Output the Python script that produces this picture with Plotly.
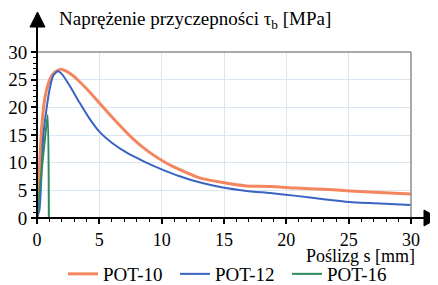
import plotly.graph_objects as go

# ---- data ----
pot10_x = [0, 0.2, 0.38, 0.64, 1.04, 1.4, 1.9, 2.3, 2.9, 3.3, 4.0, 5.0, 6.4, 7.7, 9.0, 10.4, 11.5, 13.1, 14.9, 16.8, 18.7, 20.8, 23.0, 25.1, 27.5, 30.0]
pot10_y = [0, 9.0, 16.5, 21.8, 25.1, 26.3, 26.9, 26.6, 25.7, 24.9, 23.3, 20.8, 17.3, 14.3, 11.9, 9.9, 8.7, 7.2, 6.4, 5.8, 5.7, 5.4, 5.2, 4.9, 4.6, 4.35]

pot12_x = [0, 0.2, 0.5, 0.78, 1.04, 1.3, 1.66, 2.0, 2.6, 3.4, 4.2, 5.0, 6.0, 7.2, 8.6, 10.0, 11.5, 13.1, 14.9, 16.8, 18.7, 20.8, 23.0, 25.1, 27.5, 30.0]
pot12_y = [0, 1.5, 14.7, 20.0, 23.6, 25.7, 26.5, 26.0, 24.0, 20.9, 18.0, 15.6, 13.6, 11.8, 10.2, 8.8, 7.5, 6.4, 5.5, 4.9, 4.5, 4.0, 3.4, 2.9, 2.6, 2.35]

pot16_x = [0, 0.37, 0.6, 0.86, 0.95]
pot16_y = [0, 8.6, 13.5, 18.6, 0]

names = ["POT-10", "POT-12", "POT-16"]
colors = ["#F4865F", "#3A64C2", "#2E8A5C"]
widths = [3, 2, 2]

x_ticks = [0, 5, 10, 15, 20, 25, 30]
y_ticks = [0, 5, 10, 15, 20, 25, 30]

title_text = "Naprężenie przyczepności τ<sub>b</sub> [MPa]"
xlabel_text = "Poślizg s [mm]"

FONT = "Liberation Serif"

fig = go.Figure()
for xs, ys, nm, c, w in zip([pot10_x, pot12_x, pot16_x], [pot10_y, pot12_y, pot16_y], names, colors, widths):
    fig.add_trace(go.Scatter(x=xs, y=ys, mode="lines", name=nm,
                             line=dict(color=c, width=w, shape="spline", smoothing=0.6)))

# page has an 8px body margin -> figure is 8px smaller and all reference pixel positions shift by 8
OFF = 8
W, H = 438 - OFF, 285 - OFF
L, T = 37 - OFF, 52 - OFF
R, B = W - (411 - OFF), H - (218 - OFF)
pw, ph = W - L - R, H - T - B

axis_common = dict(
    showline=False, zeroline=False, showgrid=True, gridcolor="#dbe8f4", gridwidth=1,
    ticks="outside", ticklen=5, tickwidth=1.5, tickcolor="black",
    minor=dict(dtick=1, ticks="outside", ticklen=3, tickwidth=1, tickcolor="black", showgrid=False),
    fixedrange=True, automargin=False,
)

fig.update_layout(
    width=W, height=H, margin=dict(l=L, r=R, t=T, b=B, autoexpand=False),
    paper_bgcolor="white", plot_bgcolor="white",
    font=dict(family=FONT, size=18, color="black"),
    xaxis=dict(range=[0, 30], tickvals=x_ticks, tickfont=dict(family=FONT, size=18, color="black"), **axis_common),
    yaxis=dict(range=[0, 30], tickvals=y_ticks, tickfont=dict(family=FONT, size=19, color="black"), **axis_common),
    showlegend=True,
    legend=dict(orientation="h", xref="container", yref="container",
                x=(63 - OFF) / W, xanchor="left", y=1 - (274 - OFF) / H, yanchor="middle",
                font=dict(family=FONT, size=19, color="black"), itemwidth=30,
                entrywidth=67, entrywidthmode="pixels",
                bgcolor="rgba(0,0,0,0)", tracegroupgap=0),
)

# frame (gray top/right), black axes with arrowheads (reference pixel -> paper coords)
def px(xp):
    return (xp - 37) / pw

def py(yp):
    return (218 - yp) / ph

shapes = [
    dict(type="line", xref="paper", yref="paper", x0=0, x1=1, y0=1, y1=1, line=dict(color="#8c8c8c", width=1.5)),
    dict(type="line", xref="paper", yref="paper", x0=1, x1=1, y0=0, y1=1, line=dict(color="#8c8c8c", width=1.5)),
    dict(type="line", xref="paper", yref="paper", x0=px(33), x1=px(426), y0=0, y1=0, line=dict(color="black", width=2)),
    dict(type="line", xref="paper", yref="paper", x0=0, x1=0, y0=py(221), y1=py(26), line=dict(color="black", width=2)),
    dict(type="path", xref="paper", yref="paper",
         path=f"M {px(37.5)},{py(12)} L {px(30)},{py(27)} L {px(45)},{py(27)} Z",
         fillcolor="black", line=dict(color="black", width=1)),
    dict(type="path", xref="paper", yref="paper",
         path=f"M {px(438)},{py(218)} L {px(424)},{py(210)} L {px(424)},{py(226)} Z",
         fillcolor="black", line=dict(color="black", width=1)),
]
fig.update_layout(shapes=shapes)

fig.add_annotation(text=title_text, xref="paper", yref="paper", x=px(57), y=py(20),
                   xanchor="left", yanchor="middle", showarrow=False,
                   font=dict(family=FONT, size=19, color="black"))
fig.add_annotation(text=xlabel_text, xref="paper", yref="paper", x=px(417), y=py(256),
                   xanchor="right", yanchor="middle", showarrow=False,
                   font=dict(family=FONT, size=18, color="black"))

fig.write_html("out.html")
